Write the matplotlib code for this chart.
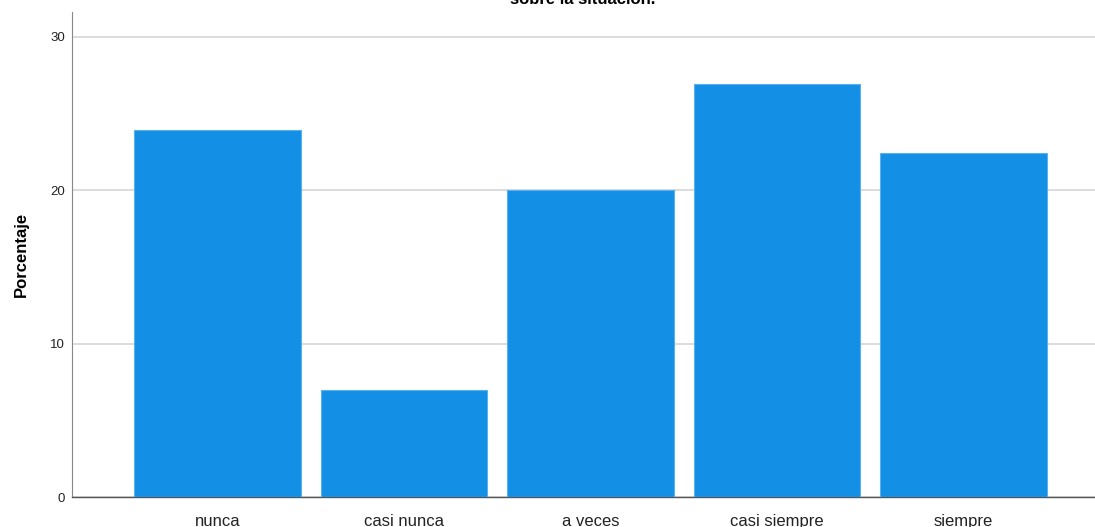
import matplotlib.pyplot as plt
import numpy as np

categorias = ["nunca", "casi nunca", "a veces", "casi siempre", "siempre"]
porcentajes = [23.9, 7.0, 20.0, 26.9, 22.4]
ticks_y = [0, 10, 20, 30]

plt.rcParams['font.family'] = ['Liberation Sans', 'DejaVu Sans']

fig = plt.figure(figsize=(10.95, 5.27), dpi=100)
ax = fig.add_axes([72 / 1095, 30 / 527, 1 - 72 / 1095, 485 / 527])

x = np.arange(len(categorias))
ax.bar(x, porcentajes, width=0.895, color="#1390E6", edgecolor="#5AB0EE",
       linewidth=0.8, zorder=3)

ax.set_xlim(-0.78, 4.705)
ax.set_ylim(0, 31.6)
ax.set_yticks(ticks_y)
ax.set_xticks(x)
ax.set_xticklabels(categorias, fontsize=12, color="#222222")
ax.tick_params(axis='y', length=0, labelsize=9.5, pad=5, colors="#222222")
ax.tick_params(axis='x', length=0, pad=12)
ax.yaxis.grid(True, color="#d6d6d6", linewidth=1.2, zorder=0)

for s in ["top", "right"]:
    ax.spines[s].set_visible(False)
ax.spines["left"].set_color("#888888")
ax.spines["bottom"].set_color("#555555")
ax.spines["bottom"].set_linewidth(1.0)

ax.set_ylabel("Porcentaje", fontsize=12, fontweight="bold")
ax.yaxis.set_label_coords(-0.042, 0.5)

fig.text(0.532, 1 - 4 / 527, "sobre la situación.", ha="center", va="baseline",
         fontsize=12, fontweight="bold")

fig.savefig("out.png", dpi=100)
